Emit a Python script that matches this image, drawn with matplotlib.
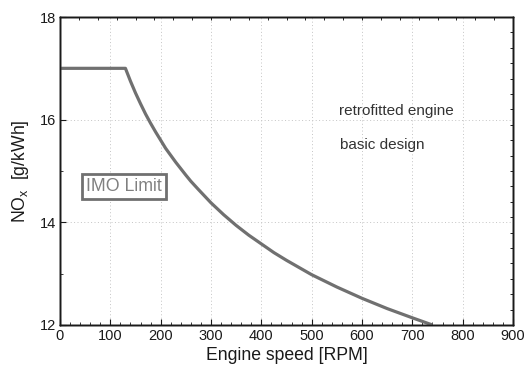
import matplotlib
matplotlib.use("Agg")
import matplotlib.pyplot as plt
import numpy as np
from matplotlib.ticker import MultipleLocator, FixedLocator

plt.rcParams['font.family'] = ['Liberation Sans', 'DejaVu Sans']
plt.rcParams['mathtext.fontset'] = 'custom'
plt.rcParams['mathtext.rm'] = 'Liberation Sans'

# IMO limit curve
rpm = [0, 130, 140, 150, 160, 170, 180, 190, 200, 210, 230, 250, 260, 275, 300, 325, 350,
       375, 400, 425, 450, 475, 500, 525, 550, 575, 600, 625, 650, 675, 700, 720, 740]
nox = [17.0, 17.0, 16.75, 16.52, 16.31, 16.11, 15.93, 15.76, 15.60, 15.44, 15.17, 14.92, 14.80,
       14.64, 14.38, 14.15, 13.94, 13.75, 13.58, 13.41, 13.26, 13.12, 12.98, 12.86, 12.74,
       12.63, 12.52, 12.42, 12.32, 12.23, 12.14, 12.07, 12.0]

x_ticks = [0, 100, 200, 300, 400, 500, 600, 700, 800, 900]
y_ticks = [12, 14, 16, 18]

fig = plt.figure(figsize=(5.25, 3.74), dpi=100)
ax = fig.add_axes([60/525, 49/374, 453/525, 308/374])

ax.plot(rpm, nox, color='#707070', lw=2.3, solid_capstyle='butt', solid_joinstyle='round', zorder=3)

ax.set_xlim(0, 900)
ax.set_ylim(12, 18)
ax.set_xticks(x_ticks)
ax.set_yticks(y_ticks)
ax.xaxis.set_minor_locator(MultipleLocator(20))
ax.yaxis.set_minor_locator(MultipleLocator(1))
ax.grid(True, which='major', color='#c4c4c4', linestyle=(0, (1, 2.5)), lw=0.7)

ax.tick_params(which='both', direction='in', top=False, right=False, labelsize=10.5, colors='#1a1a1a', pad=3)
ax.tick_params(which='major', length=4, width=0.8)
ax.tick_params(which='minor', length=2.5, width=0.6)

# top and right secondary tick marks
axt = ax.twiny()
axt.set_xlim(0, 900)
axt.xaxis.set_major_locator(FixedLocator(np.arange(0, 901, 37.5)))
axt.tick_params(axis='x', direction='in', length=2.5, width=0.6, labeltop=False)
axr = ax.twinx()
axr.set_ylim(12, 18)
axr.yaxis.set_major_locator(FixedLocator(np.arange(12, 18.01, 0.3)))
axr.tick_params(axis='y', direction='in', length=2.5, width=0.6, labelright=False)

for a in (ax, axt, axr):
    for s in a.spines.values():
        s.set_color('#1a1a1a')
        s.set_linewidth(1.0)

ax.set_xlabel('Engine speed [RPM]', fontsize=12.7, color='#1a1a1a', labelpad=3)
ax.set_ylabel('NO$_\\mathregular{x}$  [g/kWh]', fontsize=12.7, color='#1a1a1a', labelpad=6)

ax.text(554, 16.16, 'retrofitted engine', fontsize=11, color='#333333', va='center', ha='left')
ax.text(556, 15.51, 'basic design', fontsize=11, color='#333333', va='center', ha='left')
ax.text(127, 14.70, 'IMO Limit', fontsize=12.8, color='#808080', va='center', ha='center',
        bbox=dict(boxstyle='square,pad=0.22', fc='white', ec='#707070', lw=2.0), zorder=4)

fig.savefig('out.png', dpi=100)
